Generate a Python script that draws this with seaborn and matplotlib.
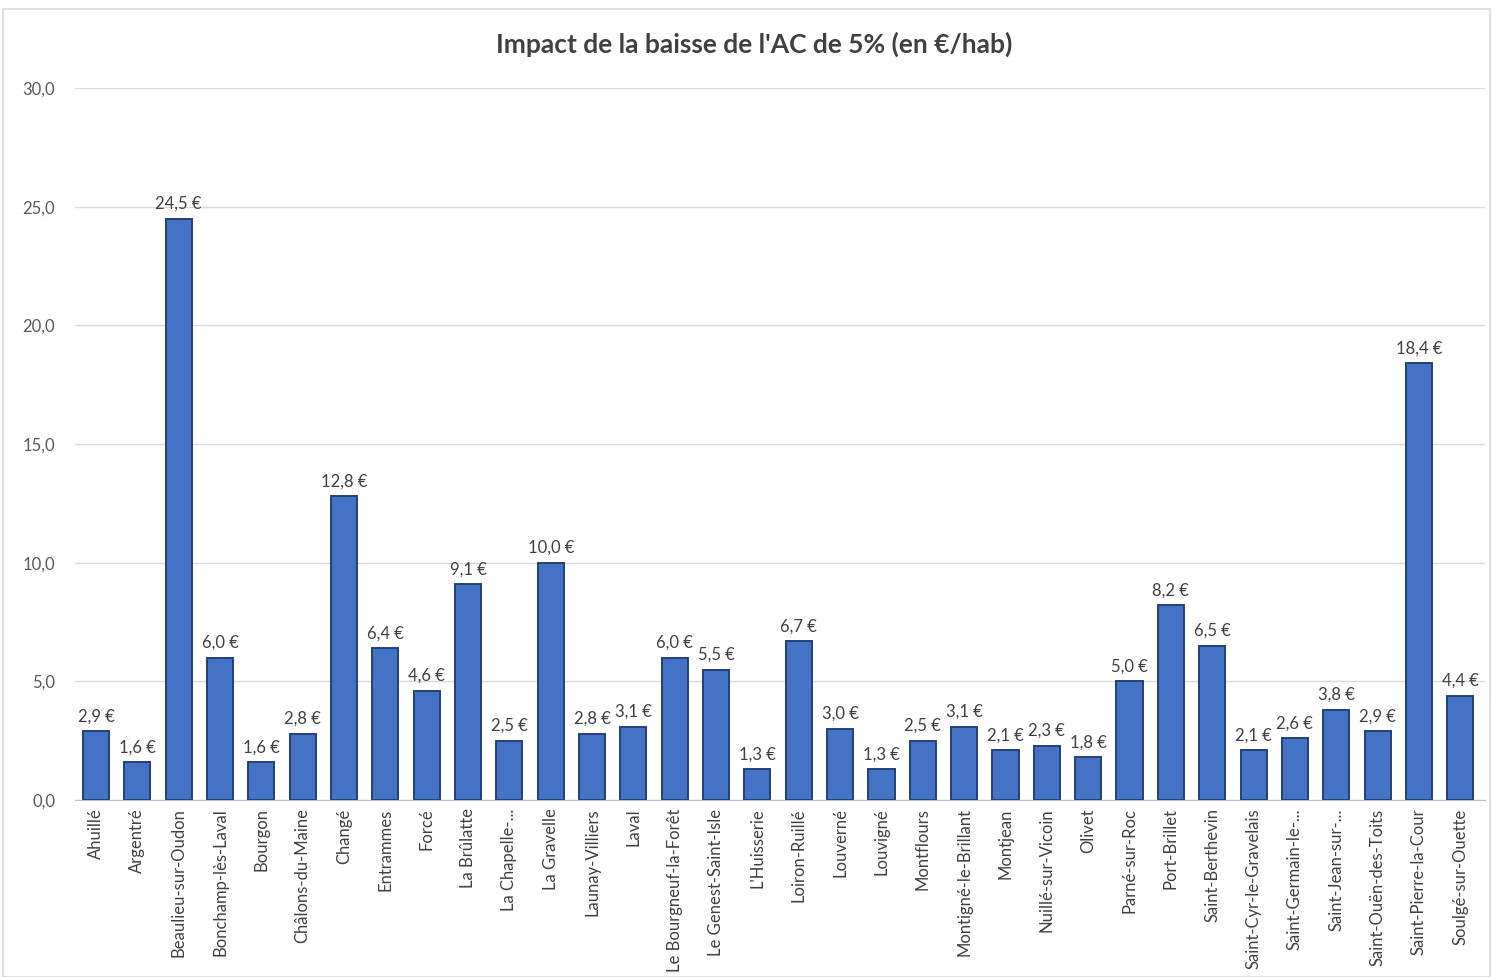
import matplotlib
matplotlib.use("Agg")
import matplotlib.pyplot as plt
import seaborn as sns
import pandas as pd
from matplotlib.patches import Rectangle

communes = ["Ahuillé", "Argentré", "Beaulieu-sur-Oudon", "Bonchamp-lès-Laval", "Bourgon",
            "Châlons-du-Maine", "Changé", "Entrammes", "Forcé", "La Brûlatte",
            "La Chapelle-...", "La Gravelle", "Launay-Villiers", "Laval", "Le Bourgneuf-la-Forêt",
            "Le Genest-Saint-Isle", "L'Huisserie", "Loiron-Ruillé", "Louverné", "Louvigné",
            "Montflours", "Montigné-le-Brillant", "Montjean", "Nuillé-sur-Vicoin", "Olivet",
            "Parné-sur-Roc", "Port-Brillet", "Saint-Berthevin", "Saint-Cyr-le-Gravelais",
            "Saint-Germain-le-...", "Saint-Jean-sur-...", "Saint-Ouën-des-Toits",
            "Saint-Pierre-la-Cour", "Soulgé-sur-Ouette"]
impact = [2.9, 1.6, 24.5, 6.0, 1.6, 2.8, 12.8, 6.4, 4.6, 9.1,
          2.5, 10.0, 2.8, 3.1, 6.0, 5.5, 1.3, 6.7, 3.0, 1.3,
          2.5, 3.1, 2.1, 2.3, 1.8, 5.0, 8.2, 6.5, 2.1, 2.6,
          3.8, 2.9, 18.4, 4.4]
yticks = [0, 5, 10, 15, 20, 25, 30]
title = "Impact de la baisse de l'AC de 5% (en €/hab)"

df = pd.DataFrame({"commune": communes, "impact": impact})

sns.set_style("white")
plt.rcParams['font.family'] = ['Lato', 'DejaVu Sans']

fig = plt.figure(figsize=(14.91, 9.77), dpi=100)
ax = fig.add_axes([0.050, 0.181, 0.946, 0.729])

sns.barplot(data=df, x="commune", y="impact", color="#4472C4", ax=ax,
            width=0.63, saturation=1, edgecolor="#22407A", linewidth=1.4, zorder=3)

labels = [f"{v:.1f} €".replace(".", ",") for v in impact]
ax.bar_label(ax.containers[0], labels=labels, padding=5, fontsize=12, color="#404040")

ax.set_ylim(0, 30)
ax.set_xlim(-0.52, 33.6)
ax.set_yticks(yticks)
ax.set_yticklabels([f"{t:.1f}".replace(".", ",") for t in yticks], fontsize=12, color="#595959")
ax.yaxis.grid(True, color="#D9D9D9", linewidth=1, zorder=0)
ax.set_axisbelow(True)
ax.tick_params(axis="y", length=0, pad=14)
ax.tick_params(axis="x", length=0, pad=6)
plt.setp(ax.get_xticklabels(), rotation=90, fontsize=12, color="#404040")
ax.set_xlabel("")
ax.set_ylabel("")
for s in ["left", "right", "top"]:
    ax.spines[s].set_visible(False)
ax.spines["bottom"].set_color("#BFBFBF")

fig.text(0.506, 0.955, title, ha="center", va="center", fontsize=19,
         fontweight="bold", color="#404040")

fig.patches.append(Rectangle((0.002, 0.0), 0.997, 0.991, transform=fig.transFigure,
                             fill=False, edgecolor="#D9D9D9", linewidth=1.2))

fig.savefig("out.png", dpi=100, facecolor="white")
